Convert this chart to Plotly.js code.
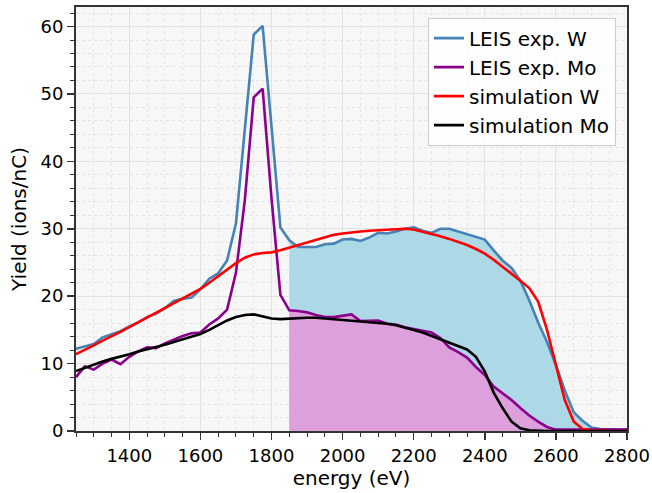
<!DOCTYPE html>
<html>
<head>
<meta charset="utf-8">
<script src="https://cdn.plot.ly/plotly-3.0.1.min.js"></script>
<style>html,body{margin:0;padding:0;background:#fff;}#chart{width:652px;height:493px;}</style>
</head>
<body>
<div id="chart"></div>
<script>
const energy = [1250,1275,1300,1325,1350,1375,1400,1425,1450,1475,1500,1525,1550,1575,1600,1625,1650,1675,1700,1725,1750,1775,1800,1825,1850,1875,1900,1925,1950,1975,2000,2025,2050,2075,2100,2125,2150,2175,2200,2225,2250,2275,2300,2325,2350,2375,2400,2425,2450,2475,2500,2525,2550,2575,2600,2625,2650,2675,2700,2725,2750,2775,2800];

const leisW = [12.2,12.5,12.9,13.9,14.3,14.8,15.5,16.1,16.9,17.4,18.2,19.3,19.6,19.8,21.0,22.6,23.4,25.3,30.8,45.0,58.8,60.1,45.0,30.2,28.3,27.3,27.3,27.3,27.7,27.8,28.4,28.5,28.2,28.7,29.4,29.3,29.6,30.0,30.2,29.7,29.4,30.0,30.0,29.6,29.2,28.8,28.4,26.8,25.3,24.2,22.3,19.4,16.1,13.2,9.8,6.0,2.8,1.5,0.5,0.3,0.2,0.2,0.2];

const leisMo = [8.0,9.6,9.1,10.0,10.6,9.9,11.0,11.8,12.4,12.3,13.0,13.6,14.1,14.5,14.6,15.8,16.7,18.0,23.5,34.3,49.5,50.8,34.5,20.2,17.9,17.8,17.6,17.2,16.9,16.9,17.1,17.3,16.3,16.4,16.4,15.9,15.8,15.4,15.1,14.9,14.6,13.8,12.4,11.7,10.9,9.5,8.3,6.6,5.6,4.6,3.4,2.3,1.4,0.6,0.2,0.2,0.2,0.2,0.2,0.2,0.2,0.2,0.2];

const simW = [11.4,12.0,12.7,13.4,14.0,14.7,15.4,16.1,16.8,17.5,18.2,18.9,19.6,20.3,21.1,22.0,23.0,24.0,24.9,25.7,26.2,26.4,26.5,26.8,27.2,27.6,28.0,28.4,28.8,29.1,29.3,29.5,29.6,29.7,29.8,29.9,29.9,30.0,29.9,29.6,29.3,28.9,28.5,28.1,27.6,27.0,26.3,25.4,24.4,23.4,22.3,21.2,19.2,15.0,9.6,4.6,1.4,0.3,0.1,0.0,0.0,0.0,0.0];

const simMo = [8.9,9.4,9.9,10.3,10.7,11.0,11.4,11.8,12.1,12.4,12.8,13.2,13.6,14.0,14.4,15.0,15.7,16.4,16.9,17.2,17.3,17.0,16.7,16.6,16.7,16.8,16.8,16.8,16.7,16.6,16.5,16.4,16.3,16.1,16.0,15.9,15.7,15.4,15.0,14.6,14.1,13.6,13.1,12.7,12.1,11.0,8.8,5.7,3.4,1.4,0.4,0.1,0.0,0.0,0.0,0.0,0.0,0.0,0.0,0.0,0.0,0.0,0.0];

const seriesNames = ["LEIS exp. W", "LEIS exp. Mo", "simulation W", "simulation Mo"];
const fillStart = 1850;
const xTitle = "energy (eV)";
const yTitle = "Yield (ions/nC)";

const i0 = energy.indexOf(fillStart);
const fx = energy.slice(i0);

const tickFont = {family: "DejaVu Sans, sans-serif", size: 18, color: "#000"};
const bigFont = {family: "DejaVu Sans, sans-serif", size: 20, color: "#000"};

const traces = [
  {x: fx, y: leisW.slice(i0), type: "scatter", mode: "lines", fill: "tozeroy",
   fillcolor: "#add8e6", line: {width: 0, color: "#add8e6"}, showlegend: false, hoverinfo: "skip"},
  {x: fx, y: leisMo.slice(i0), type: "scatter", mode: "lines", fill: "tozeroy",
   fillcolor: "#dda0dd", line: {width: 0, color: "#dda0dd"}, showlegend: false, hoverinfo: "skip"},
  {x: energy, y: leisW, type: "scatter", mode: "lines", name: seriesNames[0], line: {color: "#4682b4", width: 2.6}},
  {x: energy, y: leisMo, type: "scatter", mode: "lines", name: seriesNames[1], line: {color: "#8b008b", width: 2.6}},
  {x: energy, y: simW, type: "scatter", mode: "lines", name: seriesNames[2], line: {color: "#ff0000", width: 2.6}},
  {x: energy, y: simMo, type: "scatter", mode: "lines", name: seriesNames[3], line: {color: "#000000", width: 2.6}}
];

const layout = {
  width: 652, height: 493,
  margin: {l: 76, r: 25, t: 7, b: 62},
  paper_bgcolor: "#ffffff",
  plot_bgcolor: "#f7f7f7",
  font: tickFont,
  showlegend: true,
  legend: {x: 0.98, y: 0.975, xanchor: "right", yanchor: "top",
           bgcolor: "rgba(255,255,255,0.85)", bordercolor: "#cccccc", borderwidth: 1,
           font: bigFont, tracegroupgap: 0},
  xaxis: {
    range: [1250, 2800], tick0: 0, dtick: 200, ticks: "outside", ticklen: 7, tickwidth: 1.5, tickcolor: "#333",
    showline: true, linecolor: "#333", linewidth: 2, mirror: true,
    showgrid: true, gridcolor: "#e2e2e2", gridwidth: 1, zeroline: false,
    tickfont: tickFont,
    title: {text: xTitle, font: bigFont, standoff: 6},
    minor: {dtick: 50, ticks: "outside", ticklen: 4, tickwidth: 1, tickcolor: "#333",
            showgrid: true, gridcolor: "#e4e4e4", griddash: "dot", gridwidth: 1}
  },
  yaxis: {
    range: [0, 62.9], tick0: 0, dtick: 10, ticks: "outside", ticklen: 7, tickwidth: 1.5, tickcolor: "#333",
    showline: true, linecolor: "#333", linewidth: 2, mirror: true,
    showgrid: true, gridcolor: "#e2e2e2", gridwidth: 1, zeroline: false,
    tickfont: tickFont,
    title: {text: yTitle, font: bigFont, standoff: 8},
    minor: {dtick: 2, ticks: "outside", ticklen: 4, tickwidth: 1, tickcolor: "#333",
            showgrid: true, gridcolor: "#e4e4e4", griddash: "dot", gridwidth: 1}
  }
};

Plotly.newPlot("chart", traces, layout, {staticPlot: true, displayModeBar: false});
</script>
</body>
</html>
